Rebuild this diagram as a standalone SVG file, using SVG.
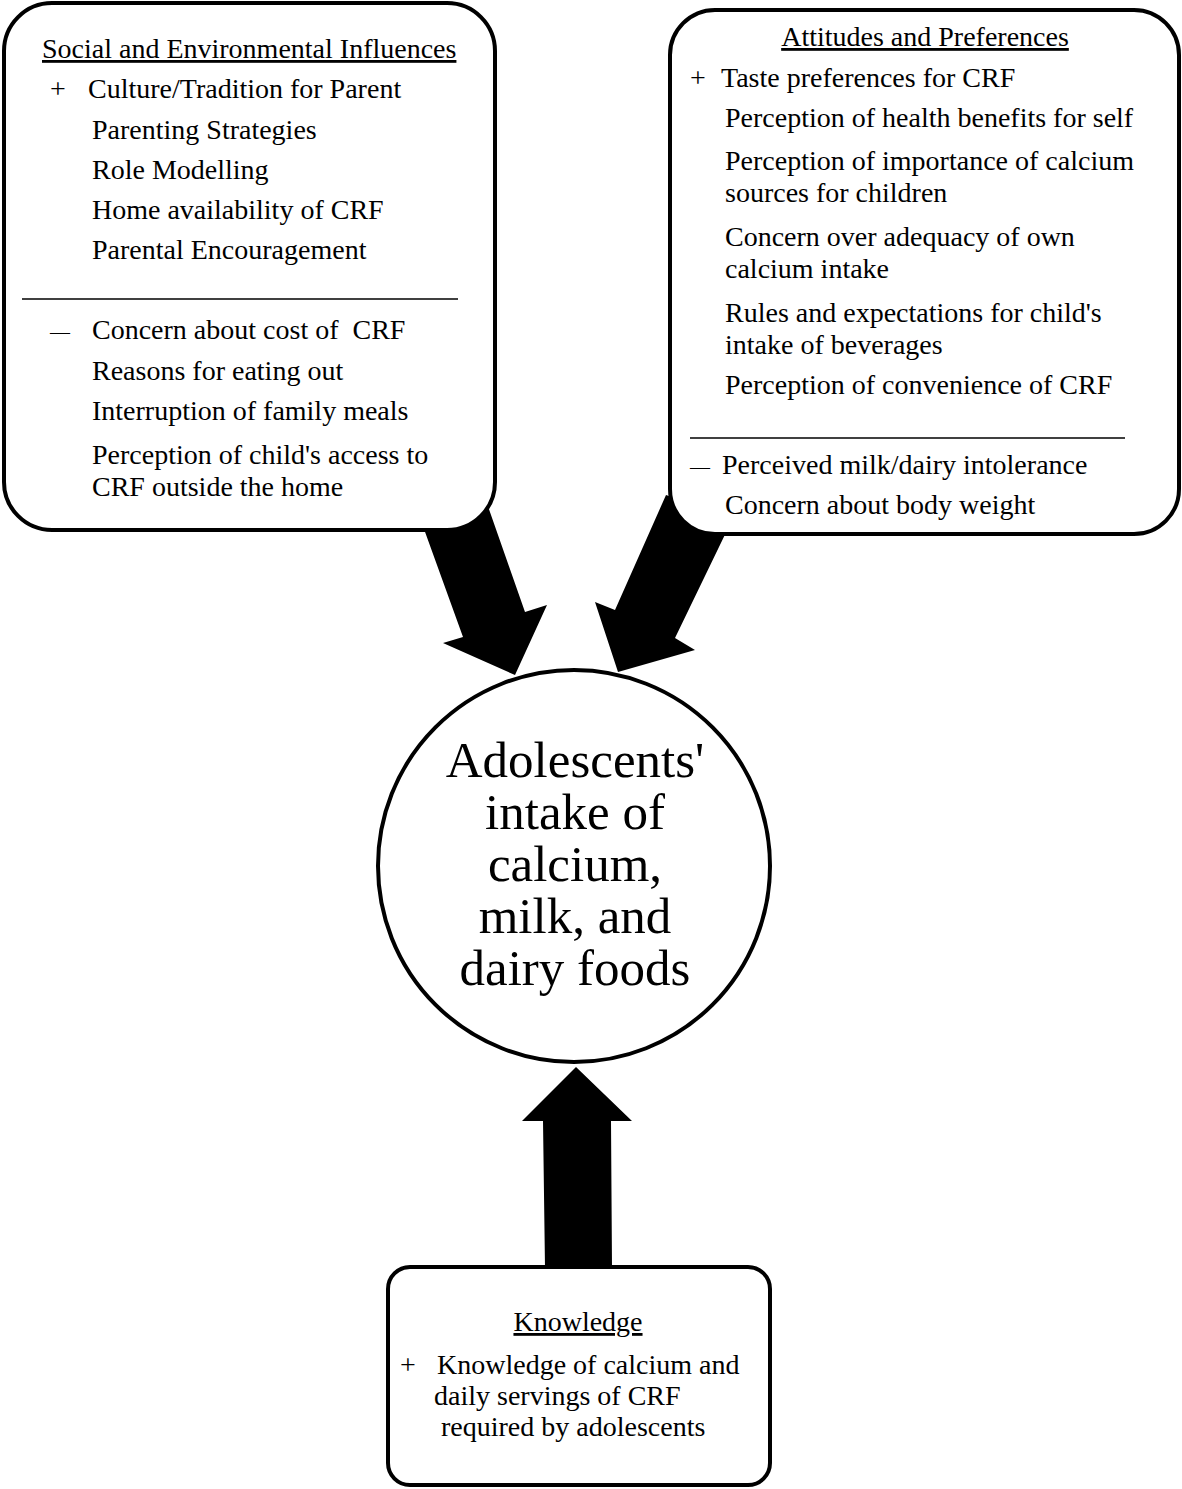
<svg xmlns="http://www.w3.org/2000/svg" width="1182" height="1489" viewBox="0 0 1182 1489">
<style>
text{font-family:"Liberation Serif","Times New Roman",serif;fill:#000}
.t{font-size:28px}
.h{font-size:28px;text-decoration:underline}
.c{font-size:51px;text-anchor:middle}
.box{fill:#fff;stroke:#000;stroke-width:4}
.sep{stroke:#000;stroke-width:1.5}
.arr{fill:#000}
</style>
<rect width="1182" height="1489" fill="#fff"/>
<g id="connectors">
<polygon class="arr" points="420,518 484,495 525,612 547,605 515,675 443,643 463,637"/>
<polygon class="arr" points="666,495 733,518 675,638 695,650 618,672 595,602 615,610"/>
<polygon class="arr" points="576,1067 632,1121 611,1121 612,1268 545,1268 543,1121 522,1121"/>
</g>
<g id="social">
<rect class="box" x="4" y="3" width="491" height="527" rx="48" ry="48"/>
<text class="h" x="42" y="58">Social and Environmental Influences</text>
<text class="t" x="50" y="98">+</text>
<text class="t" x="88" y="98">Culture/Tradition for Parent</text>
<text class="t" x="92" y="139">Parenting Strategies</text>
<text class="t" x="92" y="179">Role Modelling</text>
<text class="t" x="92" y="219">Home availability of CRF</text>
<text class="t" x="92" y="259">Parental Encouragement</text>
<line class="sep" x1="22" y1="299" x2="458" y2="299"/>
<text x="50" y="339" style="font-size:20px">—</text>
<text class="t" x="92" y="339" xml:space="preserve" style="white-space:pre">Concern about cost of  CRF</text>
<text class="t" x="92" y="380">Reasons for eating out</text>
<text class="t" x="92" y="420">Interruption of family meals</text>
<text class="t" x="92" y="464">Perception of child's access to</text>
<text class="t" x="92" y="496">CRF outside the home</text>
</g>
<g id="attitudes">
<rect class="box" x="670" y="10" width="509" height="524" rx="45" ry="45"/>
<text class="h" x="925" y="46" text-anchor="middle">Attitudes and Preferences</text>
<text class="t" x="690" y="87">+</text>
<text class="t" x="721" y="87">Taste preferences for CRF</text>
<text class="t" x="725" y="127">Perception of health benefits for self</text>
<text class="t" x="725" y="170">Perception of importance of calcium</text>
<text class="t" x="725" y="202">sources for children</text>
<text class="t" x="725" y="246">Concern over adequacy of own</text>
<text class="t" x="725" y="278">calcium intake</text>
<text class="t" x="725" y="322">Rules and expectations for child's</text>
<text class="t" x="725" y="354">intake of beverages</text>
<text class="t" x="725" y="394">Perception of convenience of CRF</text>
<line class="sep" x1="690" y1="438" x2="1125" y2="438"/>
<text x="690" y="474" style="font-size:20px">—</text>
<text class="t" x="722" y="474">Perceived milk/dairy intolerance</text>
<text class="t" x="725" y="514">Concern about body weight</text>
</g>
<g id="intake">
<circle class="box" cx="574" cy="866" r="196"/>
<text class="c" x="575" y="777">Adolescents'</text>
<text class="c" x="575" y="829">intake of</text>
<text class="c" x="575" y="881">calcium,</text>
<text class="c" x="575" y="933">milk, and</text>
<text class="c" x="575" y="985">dairy foods</text>
</g>
<g id="knowledge">
<rect class="box" x="388" y="1267" width="382" height="218" rx="22" ry="22"/>
<text class="h" x="578" y="1331" text-anchor="middle">Knowledge</text>
<text class="t" x="400" y="1374">+</text>
<text class="t" x="437" y="1374">Knowledge of calcium and</text>
<text class="t" x="434" y="1405">daily servings of CRF</text>
<text class="t" x="441" y="1436">required by adolescents</text>
</g>
</svg>
